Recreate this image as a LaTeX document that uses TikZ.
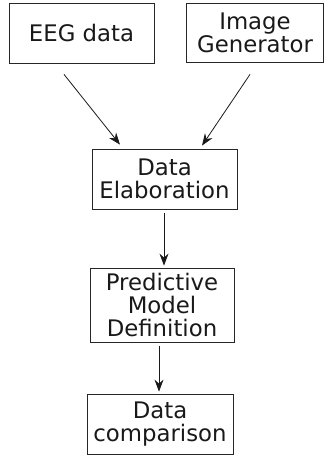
\documentclass[tikz,border=0pt]{standalone}
\usepackage{fontspec}
\setmainfont{DejaVu Sans}
\usetikzlibrary{arrows.meta}
\begin{document}
\begin{tikzpicture}[x=1pt,y=-1pt,
  box/.style={draw=black!85, line width=0.8pt, rectangle, inner sep=0pt, align=center,
    font=\fontsize{22.8}{23}\selectfont, text=black!90},
  arr/.style={draw=black!90, line width=0.8pt, -{Stealth[length=12pt,width=9pt,inset=4pt]}}]
\useasboundingbox (0,0) rectangle (324,455);
\node[box, minimum width=145pt, minimum height=60pt] (eeg) at (81.5,33) {EEG data};
\node[box, minimum width=137pt, minimum height=59pt] (ig) at (255,32.5) {Image\\Generator};
\node[box, minimum width=145pt, minimum height=60pt] (de) at (164.5,179) {Data\\Elaboration};
\node[box, minimum width=144pt, minimum height=74pt] (pmd) at (162,305) {Predictive\\Model\\Definition};
\node[box, minimum width=146pt, minimum height=60pt] (dc) at (160,424) {Data\\comparison};
\draw[arr] ([xshift=-17.5pt,yshift=-11pt]eeg.south) -- ([xshift=-44.5pt,yshift=4pt]de.north);
\draw[arr] ([xshift=-5pt,yshift=-12pt]ig.south) -- ([xshift=37.5pt,yshift=3pt]de.north);
\draw[arr] ([xshift=-0.5pt,yshift=-4pt]de.south) -- ([xshift=2pt,yshift=2pt]pmd.north);
\draw[arr] ([xshift=-3pt,yshift=-4pt]pmd.south) -- ([xshift=-1pt,yshift=2pt]dc.north);
\end{tikzpicture}
\end{document}
